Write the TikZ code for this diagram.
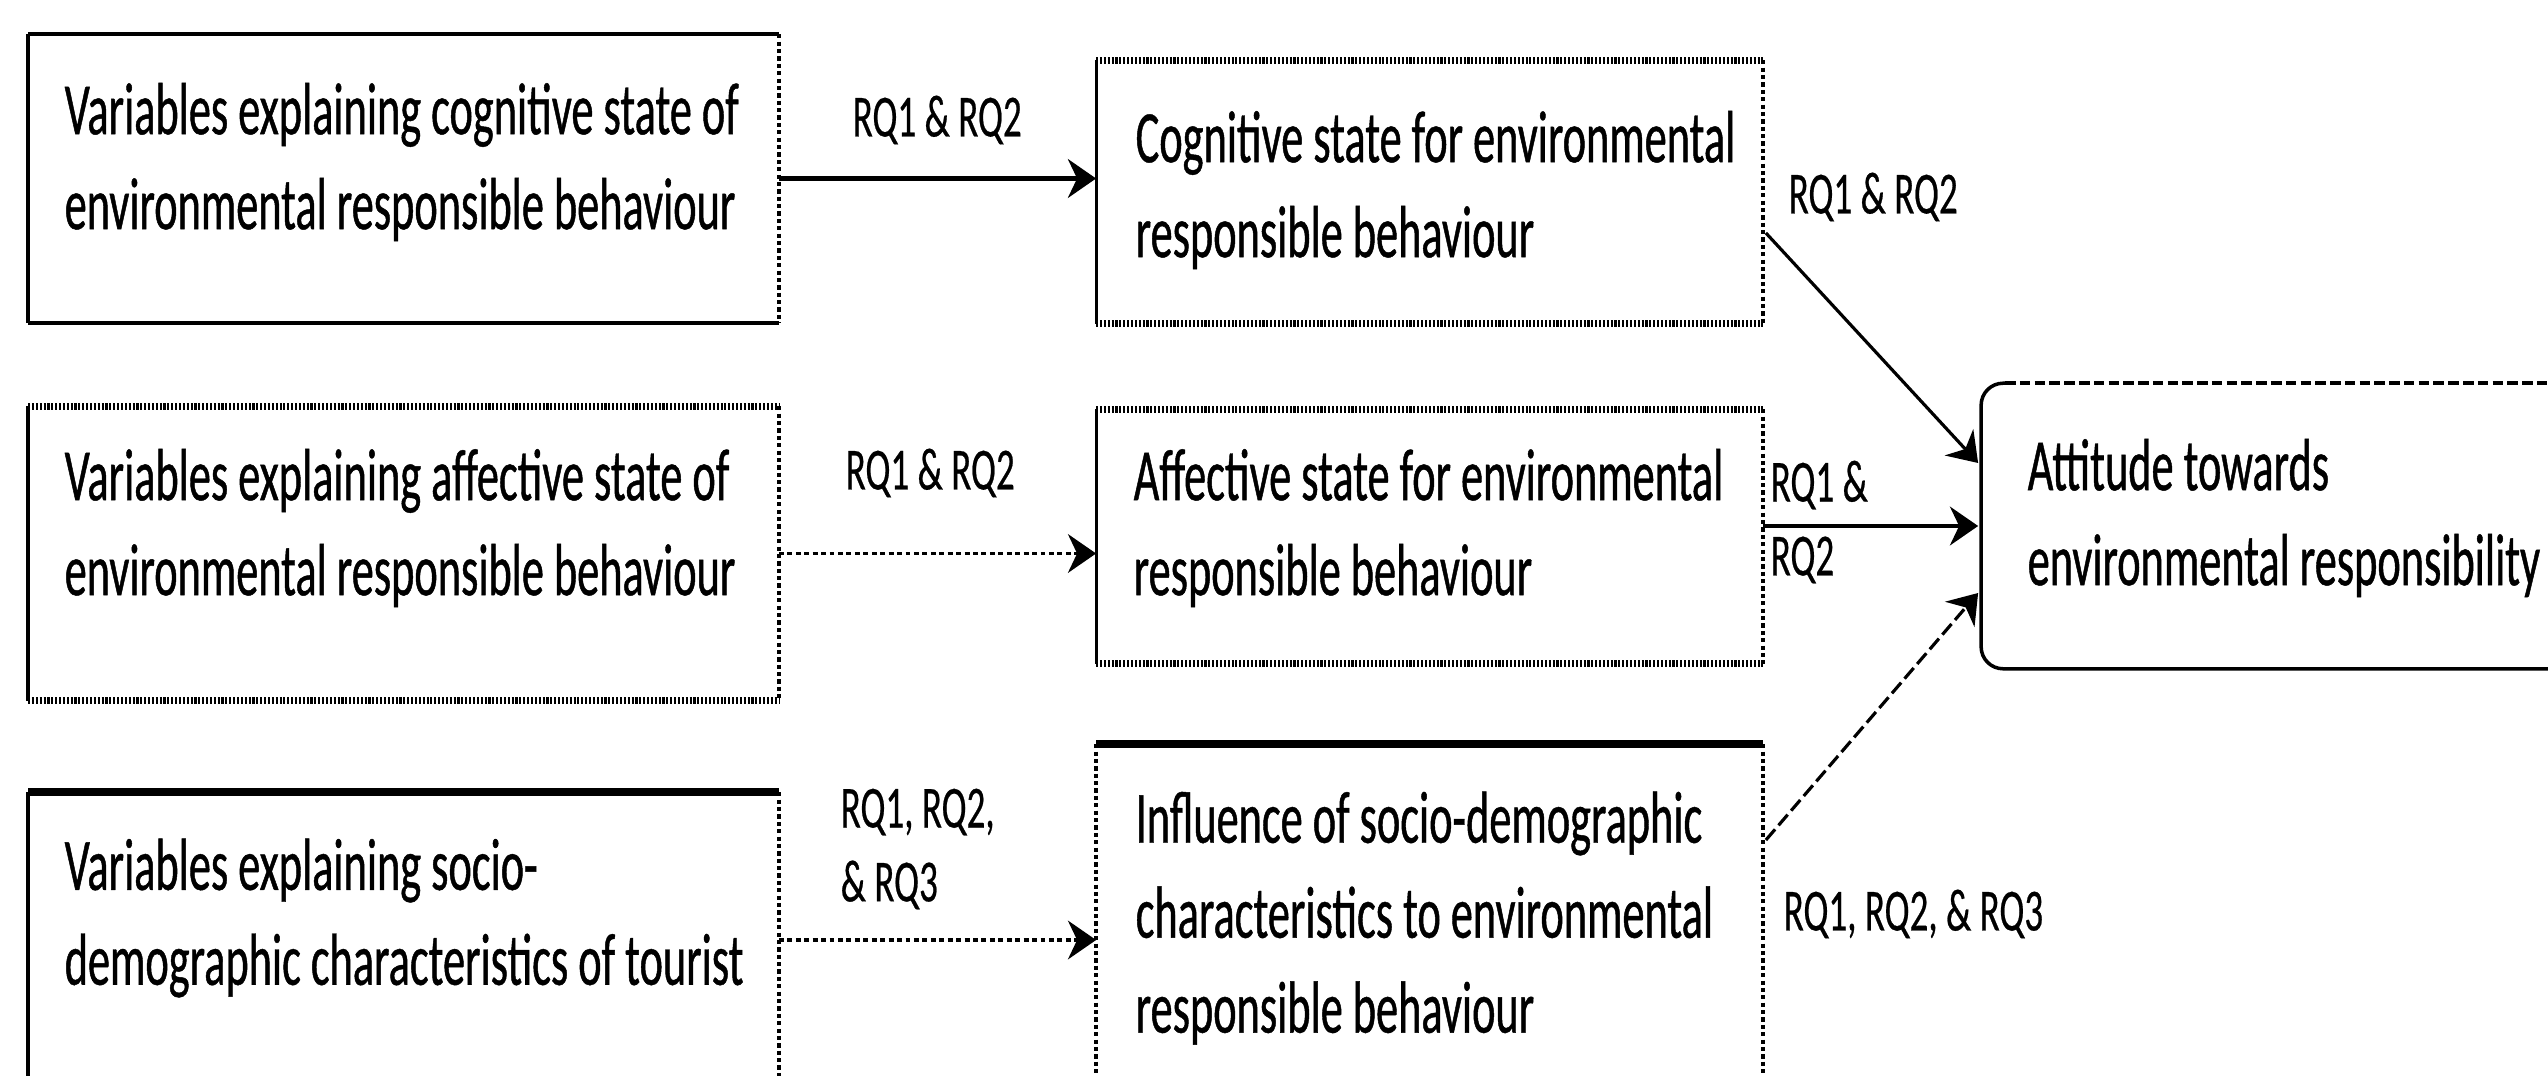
\documentclass[tikz,border=0pt]{standalone}
\usepackage{fontspec}
\usepackage{graphicx}
\setmainfont{Carlito}
\newfontfamily\condfont{Carlito}[FakeStretch=0.6,FakeBold=0.6]
\newfontfamily\labfont{Carlito}[FakeStretch=0.62,FakeBold=0.4]
\usetikzlibrary{arrows.meta,calc}
\tikzset{
  boxn/.style={draw=none, inner sep=0pt},
  txt/.style={anchor=west, inner sep=0pt, align=left, font=\condfont\fontsize{21}{27}\selectfont},
  lab/.style={anchor=west, inner sep=0pt, align=left, font=\labfont\fontsize{17}{21}\selectfont},
  solidedge/.style={line width=0.9pt},
  heavyedge/.style={line width=1.3pt},
  boldedge/.style={line width=2.2pt},
  dotedge/.style={line width=1pt, dash pattern=on 1.2pt off 0.9pt},
  hatchedge/.style={line width=2pt, dash pattern=on 0.6pt off 0.5pt},
  topdash/.style={line width=1pt, dash pattern=on 3pt off 1.2pt},
  tip/.style={-{Stealth[length=8pt,width=11pt]}},
  arrbold/.style={tip, line width=1.6pt},
  arrdot/.style={tip, line width=1pt, dash pattern=on 1.4pt off 1pt},
  arrthin/.style={tip, line width=0.9pt},
  arrmid/.style={tip, line width=1.2pt},
  arrdash/.style={tip, line width=0.9pt, dash pattern=on 4pt off 1.5pt},
}
\begin{document}
\begin{tikzpicture}[x=0.01cm,y=-0.01cm]
\path[use as bounding box, fill=white] (0,0) rectangle (2548,1076);
\clip (0,0) rectangle (2548,1076);

% box nodes
\node[boxn, minimum width=7.49cm, minimum height=2.87cm] (A1) at (403.5,178.5) {};
\node[boxn, minimum width=7.49cm, minimum height=2.93cm] (A2) at (403.5,553.5) {};
\node[boxn, minimum width=7.49cm, minimum height=2.94cm] (A3) at (403.5,940) {};
\node[boxn, minimum width=6.65cm, minimum height=2.62cm] (B1) at (1429.5,192) {};
\node[boxn, minimum width=6.65cm, minimum height=2.53cm] (B2) at (1429.5,536.5) {};
\node[boxn, minimum width=6.65cm, minimum height=3.90cm] (B3) at (1429.5,940) {};
\node[boxn, minimum width=6.40cm, minimum height=2.84cm] (C) at (2302,526) {};

% A1 borders
\draw[heavyedge] (A1.north west) -- (A1.north east);
\draw[heavyedge] (A1.south west) -- (A1.south east);
\draw[solidedge] (A1.north west) -- (A1.south west);
\draw[dotedge] (A1.north east) -- (A1.south east);
% A2 borders
\draw[hatchedge] (A2.north west) -- (A2.north east);
\draw[hatchedge] (A2.south west) -- (A2.south east);
\draw[solidedge] (A2.north west) -- (A2.south west);
\draw[dotedge] (A2.north east) -- (A2.south east);
% A3 borders
\draw[boldedge] (A3.north west) -- (A3.north east);
\draw[solidedge] (A3.north west) -- (A3.south west);
\draw[dotedge] (A3.north east) -- (A3.south east);
% B1 borders
\draw[hatchedge] (B1.north west) -- (B1.north east);
\draw[hatchedge] (B1.south west) -- (B1.south east);
\draw[solidedge] (B1.north west) -- (B1.south west);
\draw[dotedge] (B1.north east) -- (B1.south east);
% B2 borders
\draw[hatchedge] (B2.north west) -- (B2.north east);
\draw[hatchedge] (B2.south west) -- (B2.south east);
\draw[solidedge] (B2.north west) -- (B2.south west);
\draw[dotedge] (B2.north east) -- (B2.south east);
% B3 borders
\draw[boldedge] (B3.north west) -- (B3.north east);
\draw[dotedge] (B3.north west) -- (B3.south west);
\draw[dotedge] (B3.north east) -- (B3.south east);
% C borders
\draw[line width=1pt, rounded corners=0.22cm] ($(C.north west)+(24,0)$) -- (C.north west) -- (C.south west) -- (C.south east);
\draw[topdash] ($(C.north west)+(24,0)$) -- (C.north east);

% texts
\node[txt] (tA1) at (64,162) {Variables explaining cognitive state of\\environmental responsible behaviour};
\node[txt] (tA2) at (64,528) {Variables explaining affective state of\\environmental responsible behaviour};
\node[txt] (tA3) at (64,918) {Variables explaining socio-\\demographic characteristics of tourist};
\node[txt] (tB1) at (1135,190) {Cognitive state for environmental\\responsible behaviour};
\node[txt] (tB2) at (1133,528) {Affective state for environmental\\responsible behaviour};
\node[txt] (tB3) at (1135,918) {Influence of socio-demographic\\characteristics to environmental\\responsible behaviour};
\node[txt] (tC) at (2027,518) {Attitude towards\\environmental responsibility};

% labels
\node[lab] (L1) at (852,120) {RQ1 \& RQ2};
\node[lab] (L2) at (845,473) {RQ1 \& RQ2};
\node[lab] (L3) at (840,849) {RQ1, RQ2,\\\& RQ3};
\node[lab] (L4) at (1788,197) {RQ1 \& RQ2};
\node[lab] (L5) at (1770,522) {RQ1 \&\\RQ2};
\node[lab] (L6) at (1783,914) {RQ1, RQ2, \& RQ3};

% connectors
\draw[arrbold] (A1.east) -- (A1.east -| B1.west);
\draw[arrdot] (A2.east) -- (A2.east -| B2.west);
\draw[arrdot] (A3.east) -- (B3.west);
\draw[arrthin] ($(B1.east)+(3,41)$) -- ($(C.west)+(-3,-63)$);
\draw[arrmid] (B2.east |- C.west) -- ($(C.west)+(-3,0)$);
\draw[arrdash] ($(B3.east)+(3,-100)$) -- ($(C.west)+(-3,67)$);
\end{tikzpicture}
\end{document}
